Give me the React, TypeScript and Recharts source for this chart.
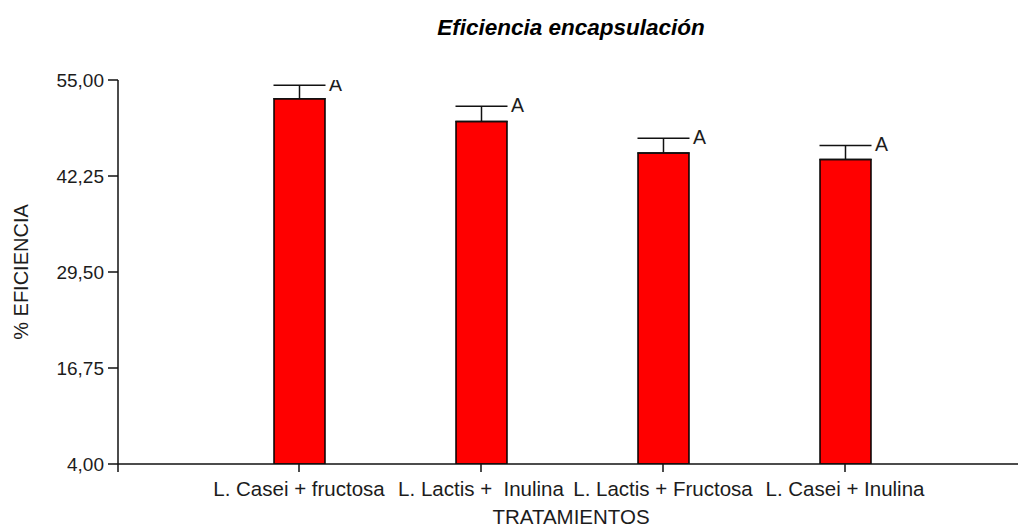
import React from "react";
import {
  ComposedChart,
  Bar,
  ErrorBar,
  Scatter,
  XAxis,
  YAxis,
} from "recharts";

// Encapsulation efficiency per treatment (mean %, upper standard error, Tukey letter)
const treatments = [
  "L. Casei + fructosa",
  "L. Lactis +  Inulina",
  "L. Lactis + Fructosa",
  "L. Casei + Inulina",
];
const means = [52.5, 49.5, 45.3, 44.45];
const errors = [1.8, 2.0, 1.95, 1.85];
const letters = ["A", "A", "A", "A"];
const yTicks = [4, 16.75, 29.5, 42.25, 55];

const data = treatments.map((name, i) => ({
  name,
  mean: means[i],
  err: [0, errors[i]],
  upper: means[i] + errors[i],
  letter: letters[i],
}));

const FONT = "'Liberation Sans', Arial, sans-serif";
const INK = "#1c1c1c";

const fmt = (v: number) => v.toFixed(2).replace(".", ",");

const XTick = (props: any) => {
  const { x, y, payload } = props;
  return (
    <text
      x={x}
      y={y}
      dy="0.71em"
      textAnchor="middle"
      fill={INK}
      fontSize={20.5}
      fontFamily={FONT}
      style={{ whiteSpace: "pre" }}
    >
      {payload.value}
    </text>
  );
};

const YTick = (props: any) => {
  const { x, y, payload } = props;
  const axisX = x + 14;
  return (
    <g>
      <text
        x={x}
        y={y}
        dy="0.355em"
        textAnchor="end"
        fill={INK}
        fontSize={19}
        fontFamily={FONT}
      >
        {fmt(payload.value)}
      </text>
      {payload.value === yTicks[0] ? (
        <line x1={axisX} y1={y} x2={axisX} y2={y + 8} stroke="#111" strokeWidth={1.5} />
      ) : null}
    </g>
  );
};

const LetterMark = (props: any) => {
  const { cx, cy, payload } = props;
  return (
    <text
      x={cx + 30}
      y={cy}
      dy="0.3em"
      fill={INK}
      fontSize={19.5}
      fontFamily={FONT}
    >
      {payload.letter}
    </text>
  );
};

export default function App() {
  return (
    <div
      style={{
        position: "absolute",
        left: 0,
        top: 0,
        width: 1018,
        height: 528,
        background: "#fff",
        fontFamily: FONT,
      }}
    >
      <div
        style={{
          position: "absolute",
          left: 0,
          width: 1142,
          top: 15,
          textAlign: "center",
          fontSize: 22.5,
          fontWeight: "bold",
          fontStyle: "italic",
          color: "#000",
          lineHeight: "26px",
        }}
      >
        Eficiencia encapsulación
      </div>
      <div
        style={{
          position: "absolute",
          left: 21,
          top: 272,
          transform: "translate(-50%, -50%) rotate(-90deg)",
          fontSize: 20,
          color: INK,
          whiteSpace: "nowrap",
          lineHeight: "22px",
        }}
      >
        % EFICIENCIA
      </div>
      <div
        style={{
          position: "absolute",
          left: 0,
          width: 1142,
          top: 506,
          textAlign: "center",
          fontSize: 20.5,
          color: INK,
          lineHeight: "22px",
        }}
      >
        TRATAMIENTOS
      </div>
      <ComposedChart
        width={1018}
        height={528}
        data={data}
        margin={{ top: 80, right: 0, bottom: 0, left: 0 }}
        style={{ position: "absolute", left: 0, top: 0 }}
      >
        <XAxis
          dataKey="name"
          interval={0}
          height={64}
          padding={{ left: 90, right: 82 }}
          tickSize={8}
          tickMargin={9}
          tick={<XTick />}
          axisLine={{ stroke: "#111", strokeWidth: 1.5 }}
          tickLine={{ stroke: "#111", strokeWidth: 1.5 }}
        />
        <YAxis
          type="number"
          domain={[4, 55]}
          ticks={yTicks}
          width={118}
          tickSize={10}
          tickMargin={4}
          tick={<YTick />}
          axisLine={{ stroke: "#111", strokeWidth: 1.5 }}
          tickLine={{ stroke: "#111", strokeWidth: 1.5 }}
          allowDataOverflow
        />
        <Bar
          dataKey="mean"
          fill="#ff0000"
          stroke="#000"
          strokeWidth={1.5}
          barSize={51}
          isAnimationActive={false}
        >
          <ErrorBar
            dataKey="err"
            direction="y"
            width={26}
            stroke="#111"
            strokeWidth={1.5}
            isAnimationActive={false}
          />
        </Bar>
        <Scatter
          dataKey="upper"
          shape={<LetterMark />}
          isAnimationActive={false}
        />
      </ComposedChart>
    </div>
  );
}
